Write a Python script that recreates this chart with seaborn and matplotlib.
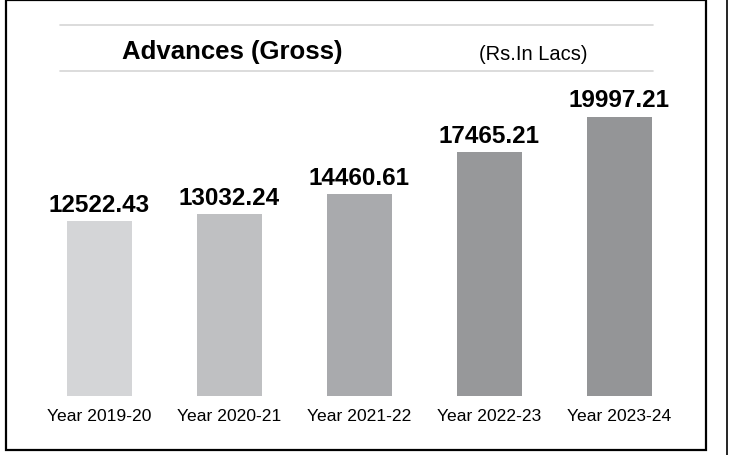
import matplotlib
matplotlib.use('Agg')
import matplotlib.pyplot as plt
import seaborn as sns
import pandas as pd
from matplotlib.patches import Rectangle
from matplotlib.lines import Line2D

# data
years = ['Year 2019-20', 'Year 2020-21', 'Year 2021-22', 'Year 2022-23', 'Year 2023-24']
advances = [12522.43, 13032.24, 14460.61, 17465.21, 19997.21]
bar_colors = ['#d4d5d7', '#bfc0c2', '#a9aaad', '#97989a', '#949597']

sns.set_style('white')
plt.rcParams['font.family'] = ['Liberation Sans', 'DejaVu Sans']

W, H = 729, 456
fig = plt.figure(figsize=(W / 100, H / 100), dpi=100)
ax = fig.add_axes([34.5 / W, 1 - 397 / H, 650 / W, 307 / H])

df = pd.DataFrame({'year': years, 'advances': advances})
sns.barplot(data=df, x='year', y='advances', hue='year', palette=bar_colors,
            legend=False, width=0.5, saturation=1, linewidth=0, ax=ax)

for c in ax.containers:
    ax.bar_label(c, fmt='%.2f', padding=4, fontsize=17.5, fontweight='bold', color='black')

ax.set_ylim(0, 22000)
ax.set_xlim(-0.5, 4.5)
ax.set_xlabel('')
ax.set_ylabel('')
ax.set_yticks([])
ax.tick_params(axis='x', length=0, pad=9, labelsize=12.6, labelcolor='black')
sns.despine(ax=ax, left=True, bottom=True)

# title block between two thin grey rules
for yy in (26, 72):
    fig.add_artist(Line2D([60 / W, 653 / W], [1 - yy / H] * 2, transform=fig.transFigure,
                          color='#d6d6d6', lw=1.2))
fig.text(232 / W, 1 - 52 / H, 'Advances (Gross)', ha='center', va='center',
         fontsize=18.5, fontweight='bold', color='black')
fig.text(533 / W, 1 - 54 / H, '(Rs.In Lacs)', ha='center', va='center',
         fontsize=14.5, color='black')

# frame
fig.add_artist(Rectangle((6 / W, 1 - 451 / H), 700 / W, 450 / H, transform=fig.transFigure,
                         fill=False, edgecolor='black', lw=1.6))
fig.add_artist(Line2D([727 / W, 727 / W], [0, 1], transform=fig.transFigure, color='black', lw=1.2))

fig.savefig('out.png', dpi=100)
